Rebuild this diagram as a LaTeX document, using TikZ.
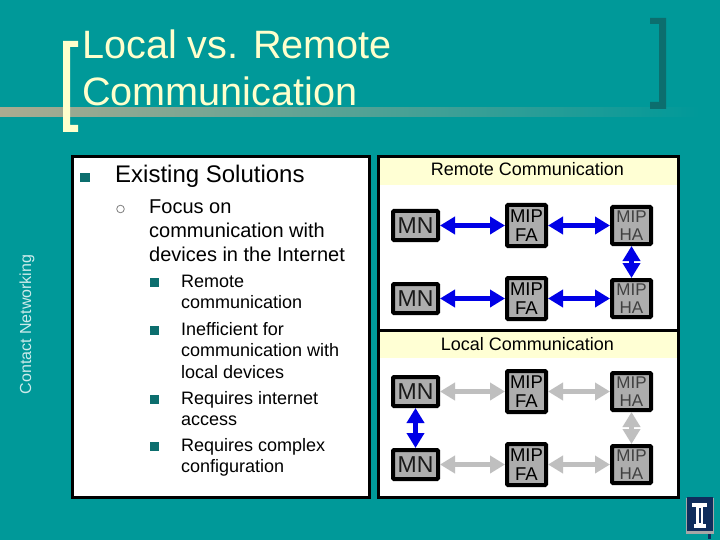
\documentclass[tikz,border=0pt]{standalone}
\usepackage{fontspec}
\setmainfont{Liberation Sans}
\usetikzlibrary{arrows.meta}
\definecolor{bgteal}{HTML}{009999}
\definecolor{darkteal}{HTML}{0C6E6E}
\definecolor{creamy}{HTML}{FFFFCC}
\definecolor{barcol}{HTML}{ABAB90}
\definecolor{nodegray}{HTML}{ADADAD}
\definecolor{linkblue}{HTML}{0000E6}
\definecolor{linkgray}{HTML}{BFBFBF}
\definecolor{navy}{HTML}{0F2D5C}
\newcommand{\px}[2]{\fontsize{#1}{#2}\selectfont}
\newcommand{\firstline}[1]{\rule{0pt}{#1pt}}
\tikzset{
  panel/.style={draw=black,line width=3pt,fill=white},
  band/.style={fill=creamy!85!white,draw=none},
  bandtext/.style={anchor=base,inner sep=0pt,font=\px{18}{20}},
  box/.style={draw=black,line width=4pt,fill=nodegray,rounded corners=1pt,inner sep=0pt,align=center},
  mnbox/.style={box,minimum width=45pt,minimum height=29pt,font=\px{23}{24},text=black!90},
  fabox/.style={box,minimum width=39pt,minimum height=41pt,font=\px{18.5}{19.5},text=black},
  habox/.style={box,minimum width=39pt,minimum height=37pt,font=\px{17}{18},text=black!75},
  link/.style={line width=4.5pt,{Triangle[length=15pt,width=17pt]}-{Triangle[length=15pt,width=17pt]}},
  bluelink/.style={link,draw=linkblue},
  graylink/.style={link,draw=linkgray},
  bulletsq/.style={fill=darkteal,draw=none},
  lvlone/.style={anchor=base west,inner sep=0pt,font=\px{24}{28}},
  lvltwo/.style={anchor=north west,inner sep=0pt,align=left,font=\px{20}{24}},
  lvlthree/.style={anchor=north west,inner sep=0pt,align=left,font=\px{18}{21.7}},
}
\begin{document}
\begin{tikzpicture}[x=1pt,y=-1pt]
\useasboundingbox (0,0) rectangle (720,540);
\fill[bgteal] (0,0) rectangle (720,540);
% title bar and brackets
\shade[left color=barcol,right color=bgteal,shading angle=90,draw=none] (0,108) rectangle (700,117);
\fill[creamy] (78,41) -- (63,41) -- (63,132) -- (78,132) -- (78,125) -- (70,125) -- (70,47) -- (78,47) -- cycle;
\fill[darkteal] (650,18) -- (666,18) -- (666,109) -- (650,109) -- (650,102) -- (659,102) -- (659,24) -- (650,24) -- cycle;
\node[anchor=north west,inner sep=0pt,align=left,text=creamy,font=\px{39.6}{47}] (title) at (82,25) {\firstline{33}Local vs. Remote\\Communication};
% side label
\node[rotate=90,anchor=base,inner sep=0pt,text=white!80!bgteal,font=\px{16}{18}] (side) at (31,324.5) {Contact Networking};
% left panel
\draw[panel] (72.5,156.5) rectangle (369.5,497);
\fill[bulletsq] (80,173) rectangle (90,182);
\node[lvlone] (h1) at (115,183) {Existing Solutions};
\draw[gray,line width=0.8pt] (120.5,209) circle (3.8);
\node[lvltwo] (h2) at (149,197) {\firstline{16}Focus on\\communication with\\devices in the Internet};
\fill[bulletsq] (150,278) rectangle (158.5,286.5);
\node[lvlthree] (i1) at (181,273) {\firstline{14}Remote\\communication};
\fill[bulletsq] (150,326) rectangle (158.5,334.5);
\node[lvlthree] (i2) at (181,321) {\firstline{14}Inefficient for\\communication with\\local devices};
\fill[bulletsq] (150,395) rectangle (158.5,403.5);
\node[lvlthree] (i3) at (181,390) {\firstline{14}Requires internet\\access};
\fill[bulletsq] (150,442) rectangle (158.5,450.5);
\node[lvlthree] (i4) at (181,437) {\firstline{14}Requires complex\\configuration};
% right panel
\draw[panel] (378.5,156.5) rectangle (678.5,497.5);
\fill[band] (380,158) rectangle (677,185);
\draw[black,line width=3pt] (378.5,330) -- (678.5,330);
\fill[band] (380,331.5) rectangle (677,358);
\node[bandtext] (remote) at (527.5,176) {Remote Communication};
\node[bandtext] (local) at (527.5,350) {Local Communication};
% remote
\node[mnbox] (mna) at (415.5,225.5) {MN};
\node[fabox] (faa) at (526.5,225.5) {MIP\\FA};
\node[habox] (haa) at (631.5,225.5) {MIP\\HA};
\node[mnbox] (mnb) at (415.5,298.5) {MN};
\node[fabox] (fab) at (526.5,298.5) {MIP\\FA};
\node[habox] (hab) at (631.5,298.5) {MIP\\HA};
\draw[bluelink] (mna) -- (faa);
\draw[bluelink] (faa) -- (haa);
\draw[bluelink] (mnb) -- (fab);
\draw[bluelink] (fab) -- (hab);
\draw[bluelink] (haa) -- (hab);
% local
\node[mnbox] (mnc) at (415.5,391.5) {MN};
\node[fabox] (fac) at (526.5,391.5) {MIP\\FA};
\node[habox] (hac) at (631.5,391.5) {MIP\\HA};
\node[mnbox] (mnd) at (415.5,464.5) {MN};
\node[fabox] (fad) at (526.5,464.5) {MIP\\FA};
\node[habox] (had) at (631.5,464.5) {MIP\\HA};
\draw[graylink] (mnc) -- (fac);
\draw[graylink] (fac) -- (hac);
\draw[graylink] (mnd) -- (fad);
\draw[graylink] (fad) -- (had);
\draw[graylink] (hac) -- (had);
\draw[bluelink] (mnc) -- (mnd);
% logo
\fill[gray!70] (686,498) rectangle (714,534);
\fill[navy] (687,497) rectangle (713,531);
\fill[navy] (708,534) rectangle (711,539);
\fill[white] (692,503) rectangle (707,507);
\fill[white] (696,507) rectangle (703,524);
\fill[navy] (698.5,508) rectangle (701,523);
\fill[white] (694,524) rectangle (706,528);
\end{tikzpicture}
\end{document}
